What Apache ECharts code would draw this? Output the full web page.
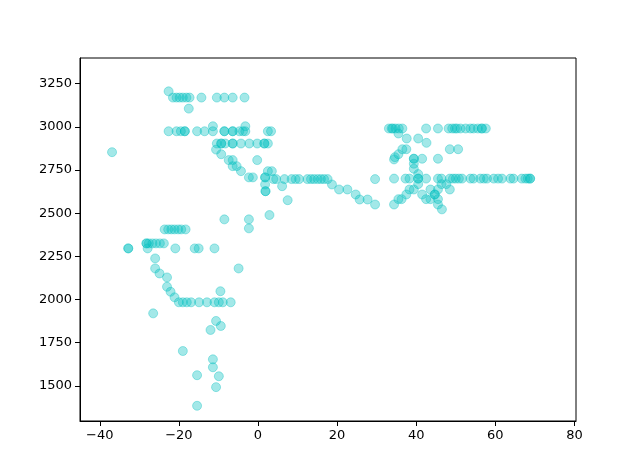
<!DOCTYPE html>
<html>
<head>
<meta charset="utf-8">
<script src="https://cdn.jsdelivr.net/npm/echarts@6/dist/echarts.min.js"></script>
<style>
  html, body { margin: 0; padding: 0; background: #fff; }
  #chart { width: 640px; height: 473px; }
</style>
</head>
<body>
<div id="chart"></div>
<script>
// tick labels
const xTicks = [-40, -20, 0, 20, 40, 60, 80]
const yTicks = [1500, 1750, 2000, 2250, 2500, 2750, 3000, 3250]

// point values, grouped roughly by region
const xTopLeft = [-22.6,
  -21.5, -20.6, -19.8, -19.0, -18.1, -17.3, -14.3, -10.4, -8.5, -6.4, -3.4,
  -17.5,
  -22.6, -20.6, -19.5, -18.5, -18.5, -15.4, -13.5, -11.4, -8.5, -8.5, -6.4, -6.4, -4.7, -3.8, -3.2, 2.5, 3.3,
  -11.4, -3.2,
  -10.4, -9.3, -9.3, -8.3, -6.4, -6.4, -4.3, -2.2, -0.2, 1.6, 1.6, 2.5,
  -10.6, -9.3, -7.4, -6.4, -0.2, -6.4, -5.4, -4.3, 2.5, 3.5,
  -2.3, -1.3, 1.8, 1.8]
const yTopLeft = [3205,
  3169, 3169, 3169, 3169, 3169, 3169, 3169, 3169, 3169, 3169, 3169,
  3105,
  2974, 2974, 2974, 2974, 2974, 2974, 2974, 2974, 2974, 2974, 2974, 2974, 2974, 2974, 2974, 2974, 2974,
  3003, 3003,
  2903, 2903, 2903, 2903, 2903, 2903, 2903, 2903, 2903, 2903, 2903, 2903,
  2868, 2841, 2807, 2807, 2807, 2772, 2772, 2743, 2743, 2743,
  2707, 2707, 2707, 2707]

const xMiddle = [3.9, 4.6, 6.7, 8.5, 9.5, 10.4, 12.5, 13.4, 14.2, 15.1, 15.9, 16.7, 17.6, 29.6,
  1.8, 1.9, 1.9, 6.1, 7.5,
  18.7, 20.5, 22.6, 24.7, 25.7, 27.7, 29.6,
  2.9, -2.3, -2.3, -8.5]
const yMiddle = [2697, 2697, 2697, 2697, 2697, 2697, 2697, 2697, 2697, 2697, 2697, 2697, 2697, 2697,
  2666, 2627, 2627, 2656, 2575,
  2666, 2637, 2637, 2608, 2579, 2579, 2550,
  2489, 2464, 2412, 2464]

const xLeft = [-23.6, -22.7, -21.9, -21.1, -20.2, -19.4, -18.3,
  -28.2, -28.2, -27.6, -26.7, -25.8, -24.8, -23.8,
  -32.8, -32.8, -27.9, -20.9, -16.0, -15.0, -11.0,
  -36.9,
  -26.0, -26.0, -24.9, -23.0, -23.0, -22.1, -21.1, -4.9,
  -20.0, -19.0, -18.0, -16.9, -14.9, -12.9, -11.0, -9.9, -8.9, -6.9,
  -9.5, -26.5, -10.6, -9.4, -12.0,
  -19.0, -11.4, -11.4, -15.4, -9.9, -10.6, -15.4]
const yLeft = [2406, 2406, 2406, 2406, 2406, 2406, 2406,
  2325, 2325, 2325, 2325, 2325, 2325, 2325,
  2296, 2296, 2296, 2296, 2296, 2296, 2296,
  2853,
  2238, 2180, 2151, 2128, 2074, 2045, 2013, 2180,
  1984, 1984, 1984, 1984, 1984, 1984, 1984, 1984, 1984, 1984,
  2048, 1920, 1876, 1847, 1824,
  1702, 1654, 1608, 1562, 1556, 1493, 1385]

const xRight = [33.1, 33.8, 34.1, 34.8, 35.6, 36.5, 42.5, 45.5, 48.2, 49.1, 49.8, 50.3, 51.2, 52.5, 53.7, 54.5, 55.6, 56.6, 56.6, 57.6,
  35.5, 37.6, 40.5, 42.6,
  36.5, 37.5, 48.5, 50.6,
  35.5, 34.6, 34.4,
  39.4, 39.4, 41.5, 45.5, 39.4, 39.4, 40.5,
  34.4, 37.3, 38.3, 40.5, 40.5, 42.5, 45.5, 46.4, 48.5, 49.3, 50.0, 50.8, 51.6, 53.7, 54.5, 56.2, 57.1, 57.9, 59.6, 60.7, 61.7, 63.8, 64.6, 66.7, 67.6, 68.2, 68.8, 68.8,
  40.5, 39.4, 38.3, 37.5, 36.3, 35.5, 34.4, 41.5, 42.5, 43.6, 43.6, 44.7, 44.7, 45.5, 46.4, 47.6, 48.5, 45.5, 45.5, 46.5]
const yRight = [2990, 2990, 2990, 2990, 2990, 2990, 2990, 2990, 2990, 2990, 2990, 2990, 2990, 2990, 2990, 2990, 2990, 2990, 2990, 2990,
  2961, 2932, 2932, 2907,
  2870, 2870, 2870, 2870,
  2841, 2824, 2811,
  2815, 2815, 2815, 2815, 2786, 2757, 2726,
  2700, 2700, 2700, 2700, 2700, 2700, 2700, 2700, 2700, 2700, 2700, 2700, 2700, 2700, 2700, 2700, 2700, 2700, 2700, 2700, 2700, 2700, 2700, 2700, 2700, 2700, 2700, 2700,
  2668, 2637, 2637, 2608, 2581, 2581, 2550, 2608, 2581, 2581, 2637, 2608, 2608, 2637, 2668, 2668, 2637, 2581, 2550, 2522]

const xs = [].concat(xTopLeft, xMiddle, xLeft, xRight)
const ys = [].concat(yTopLeft, yMiddle, yLeft, yRight)
const points = xs.map((x, i) => [x, ys[i]])

const chart = echarts.init(document.getElementById('chart'))
const axisText = {
  color: '#000',
  fontSize: 13,
  fontFamily: 'DejaVu Sans',
  formatter: v => String(v).replace('-', '\u2212') // plain numbers, real minus sign
}

chart.setOption({
  animation: false,
  grid: {
    left: 80, right: 64, top: 58, bottom: 52,
    show: true, borderColor: '#000', borderWidth: 1, backgroundColor: 'transparent'
  },
  xAxis: {
    type: 'value',
    min: -45,
    max: 80.4,
    axisLine: { show: true, onZero: false, lineStyle: { color: '#000' } },
    axisTick: { show: true, length: 5, customValues: xTicks, lineStyle: { color: '#000' } },
    axisLabel: Object.assign({ margin: 8, customValues: xTicks }, axisText),
    splitLine: { show: false }
  },
  yAxis: {
    type: 'value',
    min: 1297,
    max: 3398,
    axisLine: { show: true, onZero: false, lineStyle: { color: '#000' } },
    axisTick: { show: true, length: 5, customValues: yTicks, lineStyle: { color: '#000' } },
    axisLabel: Object.assign({ margin: 8, customValues: yTicks }, axisText),
    splitLine: { show: false }
  },
  series: [
    {
      type: 'scatter',
      symbolSize: 9,
      data: points,
      itemStyle: {
        color: 'rgba(0,191,191,0.45)',
        borderColor: 'rgba(0,191,191,0.45)',
        borderWidth: 1
      }
    }
  ]
})
</script>
</body>
</html>
